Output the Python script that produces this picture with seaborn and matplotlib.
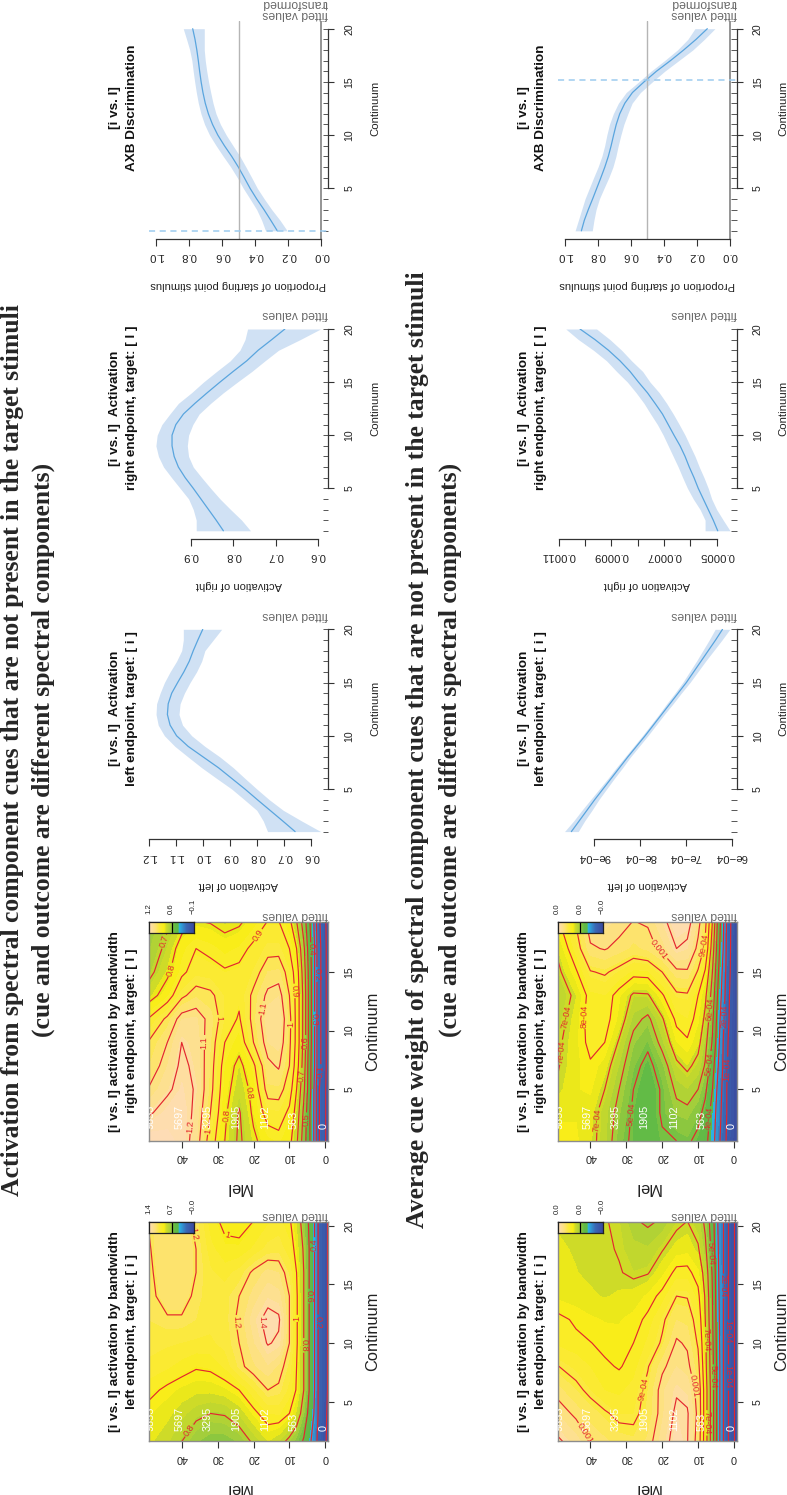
import numpy as np
import matplotlib
matplotlib.use("Agg")
import matplotlib.pyplot as plt
from matplotlib.colors import LinearSegmentedColormap
import seaborn as sns

W, H = 787, 1495

# Smooth curves, continuum 1..20
continuum = list(range(1, 21))
rug_marks = list(range(1, 21))

left_i_fit = [.660, .706, .753, .800, .846, .895, .944, 1.000, 1.056, 1.099, 1.123, 1.133, 1.130, 1.117, 1.095, 1.072, 1.052, 1.037, 1.020, 1.002]
left_i_hi = [.762, .778, .802, .848, .895, .951, 1.006, 1.056, 1.105, 1.144, 1.167, 1.175, 1.173, 1.160, 1.144, 1.123, 1.099, 1.080, 1.074, 1.074]
left_i_lo = [.565, .636, .704, .756, .802, .846, .889, .938, .994, 1.043, 1.077, 1.090, 1.086, 1.070, 1.049, 1.025, 1.006, .994, .963, .932]

right_i_fit = [.823, .840, .858, .876, .894, .913, .929, .939, .944, .944, .935, .917, .890, .861, .831, .800, .768, .741, .709, .678]
right_i_hi = [.887, .887, .894, .905, .925, .945, .964, .976, .982, .979, .968, .949, .929, .898, .870, .839, .807, .784, .772, .766]
right_i_lo = [.759, .780, .806, .831, .853, .874, .894, .905, .908, .905, .895, .880, .853, .823, .790, .756, .725, .693, .642, .594]

axb_a_fit = [.266, .306, .347, .391, .431, .466, .502, .542, .586, .626, .658, .683, .702, .716, .727, .736, .744, .753, .764, .778]
axb_a_hi = [.337, .361, .391, .431, .472, .508, .548, .593, .636, .676, .706, .728, .744, .756, .766, .775, .783, .796, .815, .835]
axb_a_lo = [.206, .250, .300, .345, .387, .421, .456, .492, .534, .575, .610, .637, .655, .669, .682, .693, .702, .708, .708, .708]

# second row, in units of 1e-4
weight_l_fit = [9.50, 9.33, 9.16, 8.99, 8.81, 8.63, 8.45, 8.27, 8.08, 7.89, 7.71, 7.53, 7.35, 7.17, 6.99, 6.83, 6.67, 6.51, 6.35, 6.20]
weight_l_hi = [9.65, 9.45, 9.27, 9.08, 8.89, 8.70, 8.52, 8.33, 8.14, 7.95, 7.77, 7.59, 7.42, 7.24, 7.07, 6.92, 6.77, 6.63, 6.49, 6.36]
weight_l_lo = [9.35, 9.21, 9.05, 8.90, 8.73, 8.56, 8.38, 8.21, 8.02, 7.83, 7.65, 7.47, 7.28, 7.10, 6.91, 6.74, 6.57, 6.39, 6.21, 6.04]

weight_r_fit = [4.96, 5.13, 5.32, 5.51, 5.70, 5.86, 6.04, 6.20, 6.39, 6.62, 6.84, 7.06, 7.34, 7.63, 7.97, 8.29, 8.67, 9.11, 9.62, 10.19]
weight_r_hi = [5.44, 5.44, 5.63, 5.89, 6.11, 6.29, 6.46, 6.65, 6.84, 7.03, 7.25, 7.51, 7.76, 8.06, 8.39, 8.80, 9.18, 9.68, 10.25, 10.73]
weight_r_lo = [4.49, 4.75, 5.00, 5.19, 5.32, 5.48, 5.66, 5.82, 6.01, 6.20, 6.42, 6.65, 6.90, 7.18, 7.53, 7.81, 8.23, 8.61, 9.05, 9.56]

axb_b_fit = [.899, .881, .857, .831, .806, .781, .757, .736, .719, .704, .688, .667, .636, .590, .520, .445, .360, .280, .205, .137]
axb_b_hi = [.937, .917, .897, .877, .851, .825, .798, .775, .758, .745, .729, .706, .675, .628, .552, .478, .396, .318, .255, .212]
axb_b_lo = [.833, .823, .810, .790, .762, .733, .708, .690, .676, .660, .642, .618, .592, .542, .470, .395, .310, .225, .155, .091]

# Heat maps: Mel rows, continuum columns
mel = [-1, 2, 3, 4.5, 6, 8, 10, 13, 16, 20, 24, 28, 32, 36, 40, 44, 49.5]
cont_left = [1.6, 4, 6, 8, 10, 12, 14, 16, 18, 20.4]
cont_right = [0.6, 3, 5, 7, 9, 11, 13, 15, 17, 19.4]

heat_act_left = [
    [-.05, .15, .30, .45, .58, .68, .76, .86, .91, .82, .72, .68, .68, .72, .80, .87, .93],
    [-.05, .20, .38, .55, .72, .90, 1.0, 1.07, 1.06, .97, .87, .81, .80, .83, .88, .93, .97],
    [-.03, .20, .40, .60, .80, .99, 1.09, 1.18, 1.2, 1.1, 1.0, .95, .93, .93, .95, .98, 1.03],
    [-.03, .20, .40, .60, .80, 1.0, 1.14, 1.25, 1.3, 1.25, 1.17, 1.07, 1.02, 1.01, 1.04, 1.07, 1.1],
    [-.03, .20, .40, .60, .80, 1.02, 1.2, 1.38, 1.41, 1.3, 1.2, 1.13, 1.1, 1.1, 1.11, 1.12, 1.13],
    [-.03, .20, .40, .60, .80, 1.02, 1.2, 1.42, 1.45, 1.34, 1.22, 1.14, 1.13, 1.16, 1.19, 1.19, 1.16],
    [-.03, .20, .40, .60, .80, 1.02, 1.2, 1.33, 1.35, 1.28, 1.2, 1.14, 1.13, 1.18, 1.24, 1.24, 1.17],
    [-.03, .20, .40, .60, .80, 1.0, 1.15, 1.26, 1.28, 1.22, 1.13, 1.09, 1.12, 1.2, 1.25, 1.25, 1.18],
    [-.03, .20, .40, .60, .78, .95, 1.08, 1.14, 1.13, 1.07, 1.02, 1.02, 1.08, 1.2, 1.25, 1.25, 1.19],
    [-.03, .20, .40, .58, .72, .90, 1.02, 1.08, 1.05, 1.0, .97, .98, 1.03, 1.18, 1.24, 1.24, 1.2],
]
heat_act_right = [
    [-.05, .12, .28, .42, .55, .72, .83, .87, .85, .78, .68, .80, .95, 1.15, 1.26, 1.3, 1.32],
    [-.05, .12, .28, .42, .58, .76, .88, .95, .94, .82, .69, .82, 1.0, 1.17, 1.27, 1.25, 1.18],
    [-.05, .12, .28, .45, .62, .80, .95, 1.04, 1.04, .83, .74, .84, 1.03, 1.19, 1.24, 1.18, 1.1],
    [-.05, .15, .30, .45, .65, .85, 1.0, 1.11, 1.08, .88, .77, .86, 1.04, 1.18, 1.22, 1.14, 1.04],
    [-.05, .15, .30, .47, .67, .87, 1.02, 1.16, 1.14, 1.0, .84, .90, 1.05, 1.17, 1.2, 1.1, 1.0],
    [-.05, .15, .30, .47, .67, .87, 1.03, 1.18, 1.17, 1.03, .89, .95, 1.07, 1.15, 1.14, 1.02, .90],
    [-.05, .15, .30, .47, .67, .87, 1.0, 1.14, 1.12, 1.02, .92, .95, 1.02, 1.04, .98, .85, .75],
    [-.05, .15, .30, .47, .65, .85, .96, 1.06, 1.05, .96, .92, .91, .93, .94, .88, .78, .66],
    [-.05, .15, .30, .45, .62, .80, .90, .97, .97, .92, .87, .85, .88, .90, .85, .73, .62],
    [-.05, .13, .28, .42, .55, .70, .82, .90, .90, .84, .78, .76, .79, .80, .75, .68, .58],
]
# cue weight maps in units of 1e-4
heat_wt_left = [
    [-.5, 1.2, 2.0, 3.6, 5.4, 7.5, 9.6, 11.05, 11.4, 10.6, 9.7, 9.3, 9.4, 9.7, 10, 10.6, 11.2],
    [-.5, 1.2, 2.0, 3.6, 5.4, 7.5, 9.8, 11.1, 11.2, 10.3, 9.3, 8.8, 8.8, 9.1, 9.4, 9.85, 10.4],
    [-.5, 1.2, 2.0, 3.6, 5.4, 7.5, 9.7, 10.7, 10.9, 10.3, 9.2, 8.6, 8.3, 8.4, 8.8, 9.2, 9.8],
    [-.5, 1.2, 2.0, 3.6, 5.3, 7.3, 9.3, 10.2, 10.4, 9.85, 8.95, 8.2, 7.95, 8.1, 8.4, 8.7, 9.05],
    [-.5, 1.2, 2.0, 3.5, 5.2, 7.2, 8.9, 9.9, 10.1, 9.1, 8.5, 8.0, 7.75, 7.85, 8.02, 8.15, 8.35],
    [-.5, 1.2, 2.0, 3.4, 5.1, 7.0, 8.6, 9.5, 9.6, 8.85, 8.15, 7.75, 7.6, 7.6, 7.7, 7.9, 8.2],
    [-.5, 1.2, 2.0, 3.3, 5.0, 6.9, 8.2, 8.95, 9.0, 8.2, 7.7, 7.4, 7.3, 7.2, 7.3, 7.4, 7.55],
    [-.5, 1.2, 2.0, 3.2, 4.9, 6.6, 7.7, 8.2, 8.2, 7.5, 6.95, 6.85, 7.05, 7.1, 7.15, 7.25, 7.4],
    [-.5, 1.2, 2.0, 3.1, 4.6, 6.2, 7.1, 7.5, 7.4, 6.95, 6.5, 6.6, 6.95, 7.1, 7.15, 7.2, 7.3],
    [-.5, 1.2, 2.0, 3.0, 4.4, 5.8, 6.6, 7.0, 6.8, 6.1, 5.85, 6.1, 6.85, 7.05, 7.1, 7.15, 7.2],
]
heat_wt_right = [
    [-.5, .9, 1.4, 2.4, 3.4, 4.3, 4.75, 5.15, 5.0, 4.9, 4.5, 4.8, 5.4, 6.6, 7.3, 7.7, 7.9],
    [-.5, 1.0, 1.6, 2.6, 3.6, 4.7, 5.3, 5.8, 5.7, 5.1, 4.5, 4.85, 5.7, 6.6, 7.4, 7.6, 7.5],
    [-.5, 1.0, 1.7, 2.8, 4.0, 5.2, 6.0, 6.4, 6.2, 5.1, 4.5, 5.0, 6.0, 7.0, 7.7, 7.6, 7.05],
    [-.5, 1.1, 1.9, 3.1, 4.4, 5.9, 6.7, 7.2, 6.8, 5.5, 4.7, 5.3, 6.4, 7.4, 7.9, 7.5, 6.9],
    [-.5, 1.2, 2.0, 3.4, 4.9, 6.3, 7.3, 7.9, 7.6, 6.3, 5.2, 5.7, 6.9, 8.0, 8.25, 7.5, 6.8],
    [-.5, 1.4, 2.2, 3.6, 5.2, 6.8, 7.7, 8.4, 8.2, 6.9, 5.8, 6.3, 7.5, 8.3, 8.4, 7.4, 6.6],
    [-.5, 1.5, 2.5, 3.9, 5.6, 7.2, 8.0, 8.9, 8.85, 7.9, 6.9, 6.85, 7.7, 8.4, 8.3, 7.2, 6.4],
    [-.5, 1.7, 2.7, 4.2, 6.0, 7.9, 8.9, 9.9, 9.85, 9.0, 8.35, 8.3, 8.75, 9.1, 8.95, 7.9, 6.7],
    [-.5, 1.8, 3.0, 4.5, 6.5, 8.8, 9.8, 10.8, 11.0, 10.2, 9.7, 9.5, 9.8, 10.05, 9.9, 8.6, 7.1],
    [-.5, 1.9, 3.2, 4.8, 7.0, 9.3, 10.3, 11.4, 11.5, 10.8, 10.1, 10.0, 10.3, 10.6, 10.4, 9.1, 7.8],
]

freq_labels = ["9853", "5697", "3295", "1905", "1102", "563", "0"]
freq_mel = [48.7, 40.7, 32.9, 24.9, 16.8, 8.9, 0.6]

# where contour labels sit, (Mel, continuum)
spots_act_left = [(36.1, 19.3), (27.5, 19), (24.2, 11.8), (17.3, 11.8), (7.5, 12.1), (6.1, 9.8), (4.3, 14), (2.6, 18.4), (1.5, 11.8), (38.6, 2.7)]
spots_act_right = [(40.9, 1.9), (32, 1.4), (26, 2.7), (20.8, 4.7), (5.5, 2.4), (6.6, 6.2), (5.7, 9), (33.3, 9), (30.5, 11),
                   (17.3, 11.9), (9.2, 10.5), (.6, 6.5), (2.9, 11), (45, 17.6), (43.3, 15.2), (21, 18.6), (4.3, 16.9), (2.4, 14.8), (8, 13.4)]
spots_wt_left = [(38.3, 2.9), (25.3, 6.1), (11.8, 6.3), (7.9, 3.2), (5.9, 7.1), (7.6, 10.3), (6.7, 17.6), (3.4, 14.9), (2, 11), (1.1, 7.1)]
spots_wt_right = [(38.3, 2.4), (29.9, 2.9), (7.1, 2.5), (7.1, 7.2), (7.1, 11.8), (46.1, 8.1), (40.6, 11.2), (47.5, 11.2),
                  (1.6, 6.7), (2.5, 11.2), (21, 16.9), (9, 17.3)]

sns.set_theme(style="white")
plt.rcParams['font.family'] = ['Liberation Sans', 'DejaVu Sans']

topo = LinearSegmentedColormap.from_list("topo_print", [
    (0.0, "#3b4ba0"), (0.16, "#3a68b4"), (0.333, "#2bb7e9"), (0.334, "#5cb947"), (0.42, "#62bb46"),
    (0.52, "#a5ce3b"), (0.62, "#d0dc27"), (0.667, "#f9ee14"), (0.78, "#fbe93c"), (0.87, "#fde27a"), (1.0, "#fedcb5")])

fig = plt.figure(figsize=(W / 100, H / 100), dpi=100)


def put(x, y, s, **kw):
    return fig.text(x / W, 1 - y / H, s, **kw)


def px_axes(left, top, right, bottom):
    return fig.add_axes([left / W, 1 - bottom / H, (right - left) / W, (bottom - top) / H])


def lim(a, pa, b, pb, p):
    return a + (p - pa) * (b - a) / (pb - pa)


def side_axis(ax):
    ax.tick_params(axis="y", left=False, right=True, labelleft=False, labelright=True,
                   labelrotation=90, length=4.5, width=.8, color="#333333", labelsize=7.6, pad=7,
                   labelcolor="#222222")
    for lab in ax.get_yticklabels():
        lab.set_va("center")
    ax.tick_params(axis="x", bottom=True, length=4.8, width=.8, color="#333333", labelsize=7.8,
                   labelrotation=180, pad=3.5, labelcolor="#222222")


def heat_panel(dx, top, c5, c_other, v_other, z, cont, vmin, vmax, levels, fmt, spots, ticks, bar_labels, title2, ctop):
    left, right, bottom = 149 + dx, 328.3 + dx, top + 219
    ax = px_axes(left, top, right, bottom)
    ax.contourf(mel, cont, z, levels=np.linspace(vmin, vmax, 31), cmap=topo, extend="both")
    cs = ax.contour(mel, cont, z, levels=levels, colors="#e3262e", linewidths=.85)
    ax.set_xlim(lim(40, 181.7 + dx, 0, 325.3 + dx, left), lim(40, 181.7 + dx, 0, 325.3 + dx, right))
    ax.set_ylim(lim(5, c5, v_other, c_other, bottom), lim(5, c5, v_other, c_other, top))
    ax.clabel(cs, fmt=fmt, fontsize=6.6, inline=True, inline_spacing=1, manual=spots)
    ax.set_xticks([0, 10, 20, 30, 40])
    ax.set_yticks(ticks)
    side_axis(ax)
    for s in ax.spines.values():
        s.set_color("#8c8c8c")
        s.set_linewidth(1)
    for lab, m in zip(freq_labels, freq_mel):
        ax.text(m, ctop, lab, color="white", fontsize=7.8, rotation=90, ha="center", va="bottom", clip_on=True)

    cax = px_axes(left, top, left + 45, top + 11)
    cax.imshow(np.linspace(1, 0, 64)[None, :], aspect="auto", cmap=topo, vmin=0, vmax=1)
    cax.axvline(31.5, color="black", lw=.9)
    cax.set_xticks([])
    cax.set_yticks([])
    for s in cax.spines.values():
        s.set_color("#222222")
        s.set_linewidth(.9)
    for lab, x in zip(bar_labels, [left, left + 22.5, left + 44]):
        put(x, top - 7.5, lab, fontsize=5.6, rotation=90, ha="center", va="bottom", color="#222222")

    mid = (top + bottom) / 2
    put(328.3 + dx, top - 7, "fitted values", fontsize=8.8, rotation=180, ha="right", va="center", color="#6a6a6a")
    put(115 + dx, mid, "[i vs. I] activation by bandwidth", fontsize=9.7, rotation=90, ha="center", va="center", fontweight="bold", color="#111111")
    put(132 + dx, mid, title2, fontsize=9.7, rotation=90, ha="center", va="center", fontweight="bold", color="#111111")
    put(373 + dx, mid, "Continuum", fontsize=11.8, rotation=90, ha="center", va="center", color="#222222")
    put(238.5 + dx, bottom + 47, "Mel", fontsize=11.8, rotation=180, ha="center", va="center", color="#222222")


def smooth_panel(dx, c5, c20, bottom, top, fit, hi, lo, val_map, vticks, vlabels, title1, title2, ylab, fit_y, axb=None):
    left, right = 149 + dx, 328.3 + dx
    ax = px_axes(left, top, right, bottom)
    ax.patch.set_alpha(0)
    ax.fill_betweenx(continuum, lo, hi, color="#d0e1f4", lw=0)
    plot_df = {"cont": continuum, "fit": fit}
    sns.lineplot(data=plot_df, x="fit", y="cont", orient="y", errorbar=None, color="#5aa5de", lw=.9, ax=ax)
    a, pa, b, pb = val_map
    ax.set_xlim(lim(a, pa + dx, b, pb + dx, left), lim(a, pa + dx, b, pb + dx, right))
    ax.set_ylim(lim(5, c5, 20, c20, bottom), lim(5, c5, 20, c20, top))
    ax.set_xticks(vticks)
    ax.set_xticklabels(vlabels)
    ax.set_yticks([5, 10, 15, 20])
    ax.set_xlabel("")
    ax.set_ylabel("")
    side_axis(ax)
    ax.tick_params(axis="x", labelsize=8.2, pad=4)
    for s in ["top", "left"]:
        ax.spines[s].set_visible(False)
    for s in ["right", "bottom"]:
        ax.spines[s].set_color("#333333")
        ax.spines[s].set_linewidth(.9)
    ax.spines["right"].set_bounds(5, 20)
    ax.spines["bottom"].set_bounds(vticks[0], vticks[-1])
    ax.hlines(rug_marks, 1 - 5.5 / (right - left), 1, transform=ax.get_yaxis_transform(), color="#555555", lw=.7, clip_on=False)
    if axb is not None:
        ax.axvline(.5, color="#b5b5b5", lw=1)
        ax.axvline(0, color="#777777", lw=1.1)
        ax.axhline(axb, color="#9ccbef", lw=1.1, ls=(0, (4, 3)))

    mid = c5 - 7.5 * (c5 - c20) / 15 - 0.5
    put(115 + dx, mid, title1, fontsize=9.7, rotation=90, ha="center", va="center", fontweight="bold", color="#111111")
    put(132 + dx, mid, title2, fontsize=9.7, rotation=90, ha="center", va="center", fontweight="bold", color="#111111")
    put(375 + dx, mid, "Continuum", fontsize=8.2, rotation=90, ha="center", va="center", color="#222222")
    put(238.5 + dx, bottom + 46, ylab, fontsize=8, rotation=180, ha="center", va="center", color="#222222")
    put(328.3 + dx, fit_y, "fitted values", fontsize=8.8, rotation=180, ha="right", va="center", color="#6a6a6a")
    if axb is not None:
        put(328.3 + dx, fit_y - 11, "transformed", fontsize=8.8, rotation=180, ha="right", va="center", color="#6a6a6a")


def fmt_plain(v):
    return f"{v:g}"


def fmt_wt(v):
    if v == 0:
        return "0"
    if v == 10:
        return "0.001"
    if v == 11:
        return "0.0011"
    return f"{v:.0f}e-04"


DX = 408.67
lev_a = [0, .2, .4, .6, .8, 1, 1.2, 1.4]
lev_b = [0, .1, .2, .3, .4, .5, .6, .7, .8, .9, 1, 1.1, 1.2]
lev_w = list(range(0, 12))

heat_panel(0, 1222, 1401.7, 1225.7, 20, heat_act_left, cont_left, -.03, 1.46, lev_a, fmt_plain, spots_act_left, [5, 10, 15, 20],
           ["1.4", "0.7", "\u22120.0"], "left endpoint, target: [ i ]", 2.5)
heat_panel(0, 921.7, 1089.3, 972, 15, heat_act_right, cont_right, -.1, 1.28, lev_b, fmt_plain, spots_act_right, [5, 10, 15],
           ["1.2", "0.6", "\u22120.1"], "right endpoint, target: [ I ]", 1.6)
heat_panel(DX, 1222, 1401.7, 1225.7, 20, heat_wt_left, cont_left, -.3, 11.6, lev_w, fmt_wt, spots_wt_left, [5, 10, 15, 20],
           ["0.0", "0.0", "\u22120.0"], "left endpoint, target: [ i ]", 2.5)
heat_panel(DX, 921.7, 1089.3, 972, 15, heat_wt_right, cont_right, -.3, 11.6, lev_w[1:], fmt_wt, spots_wt_right, [5, 10, 15],
           ["0.0", "0.0", "\u22120.0"], "right endpoint, target: [ I ]", 1.6)

smooth_panel(0, 789, 629.3, 839.3, 629.3, left_i_fit, left_i_hi, left_i_lo, (1.2, 149.3, .6, 311.3),
             [.6, .7, .8, .9, 1.0, 1.1, 1.2], ["0.6", "0.7", "0.8", "0.9", "1.0", "1.1", "1.2"],
             "[i vs. I]  Activation", "left endpoint, target: [ i ]", "Activation of left", 615)
smooth_panel(0, 488.3, 329, 539, 329, right_i_fit, right_i_hi, right_i_lo, (.9, 190.7, .6, 318),
             [.6, .7, .8, .9], ["0.6", "0.7", "0.8", "0.9"],
             "[i vs. I]  Activation", "right endpoint, target: [ I ]", "Activation of right", 314)
smooth_panel(0, 188.3, 28.7, 239, 20.7, axb_a_fit, axb_a_hi, axb_a_lo, (1.0, 156, 0, 321.3),
             [0, .2, .4, .6, .8, 1.0], ["0.0", "0.2", "0.4", "0.6", "0.8", "1.0"],
             "[i vs. I]", "AXB Discrimination", "Proportion of starting point stimulus", 14, axb=1)

smooth_panel(DX, 789, 629.3, 839.3, 629.3, weight_l_fit, weight_l_hi, weight_l_lo, (9, 185.6, 6, 323),
             [6, 7, 8, 9], ["6e\u221204", "7e\u221204", "8e\u221204", "9e\u221204"],
             "[i vs. I]  Activation", "left endpoint, target: [ i ]", "Activation of left", 615)
smooth_panel(DX, 488.3, 329, 539, 329, weight_r_fit, weight_r_hi, weight_r_lo, (11, 150, 5, 308),
             [5, 6, 7, 8, 9, 10, 11], ["0.0005", "", "0.0007", "", "0.0009", "", "0.0011"],
             "[i vs. I]  Activation", "right endpoint, target: [ I ]", "Activation of right", 314)
smooth_panel(DX, 188.3, 28.7, 239, 20.7, axb_b_fit, axb_b_hi, axb_b_lo, (1.0, 156, 0, 321.3),
             [0, .2, .4, .6, .8, 1.0], ["0.0", "0.2", "0.4", "0.6", "0.8", "1.0"],
             "[i vs. I]", "AXB Discrimination", "Proportion of starting point stimulus", 14, axb=15.2)

serif = ['Liberation Serif', 'DejaVu Serif']
put(13, 750, "Activation from spectral component cues that are not present in the target stimuli", family=serif,
    fontsize=18.45, fontweight="bold", rotation=90, ha="center", va="center")
put(43, 750, "(cue and outcome are different spectral components)", family=serif,
    fontsize=18.45, fontweight="bold", rotation=90, ha="center", va="center")
put(418, 750, "Average cue weight of spectral component cues that are not present in the target stimuli", family=serif,
    fontsize=18.45, fontweight="bold", rotation=90, ha="center", va="center")
put(450, 750, "(cue and outcome are different spectral components)", family=serif,
    fontsize=18.45, fontweight="bold", rotation=90, ha="center", va="center")

fig.savefig("out.png", dpi=100)
